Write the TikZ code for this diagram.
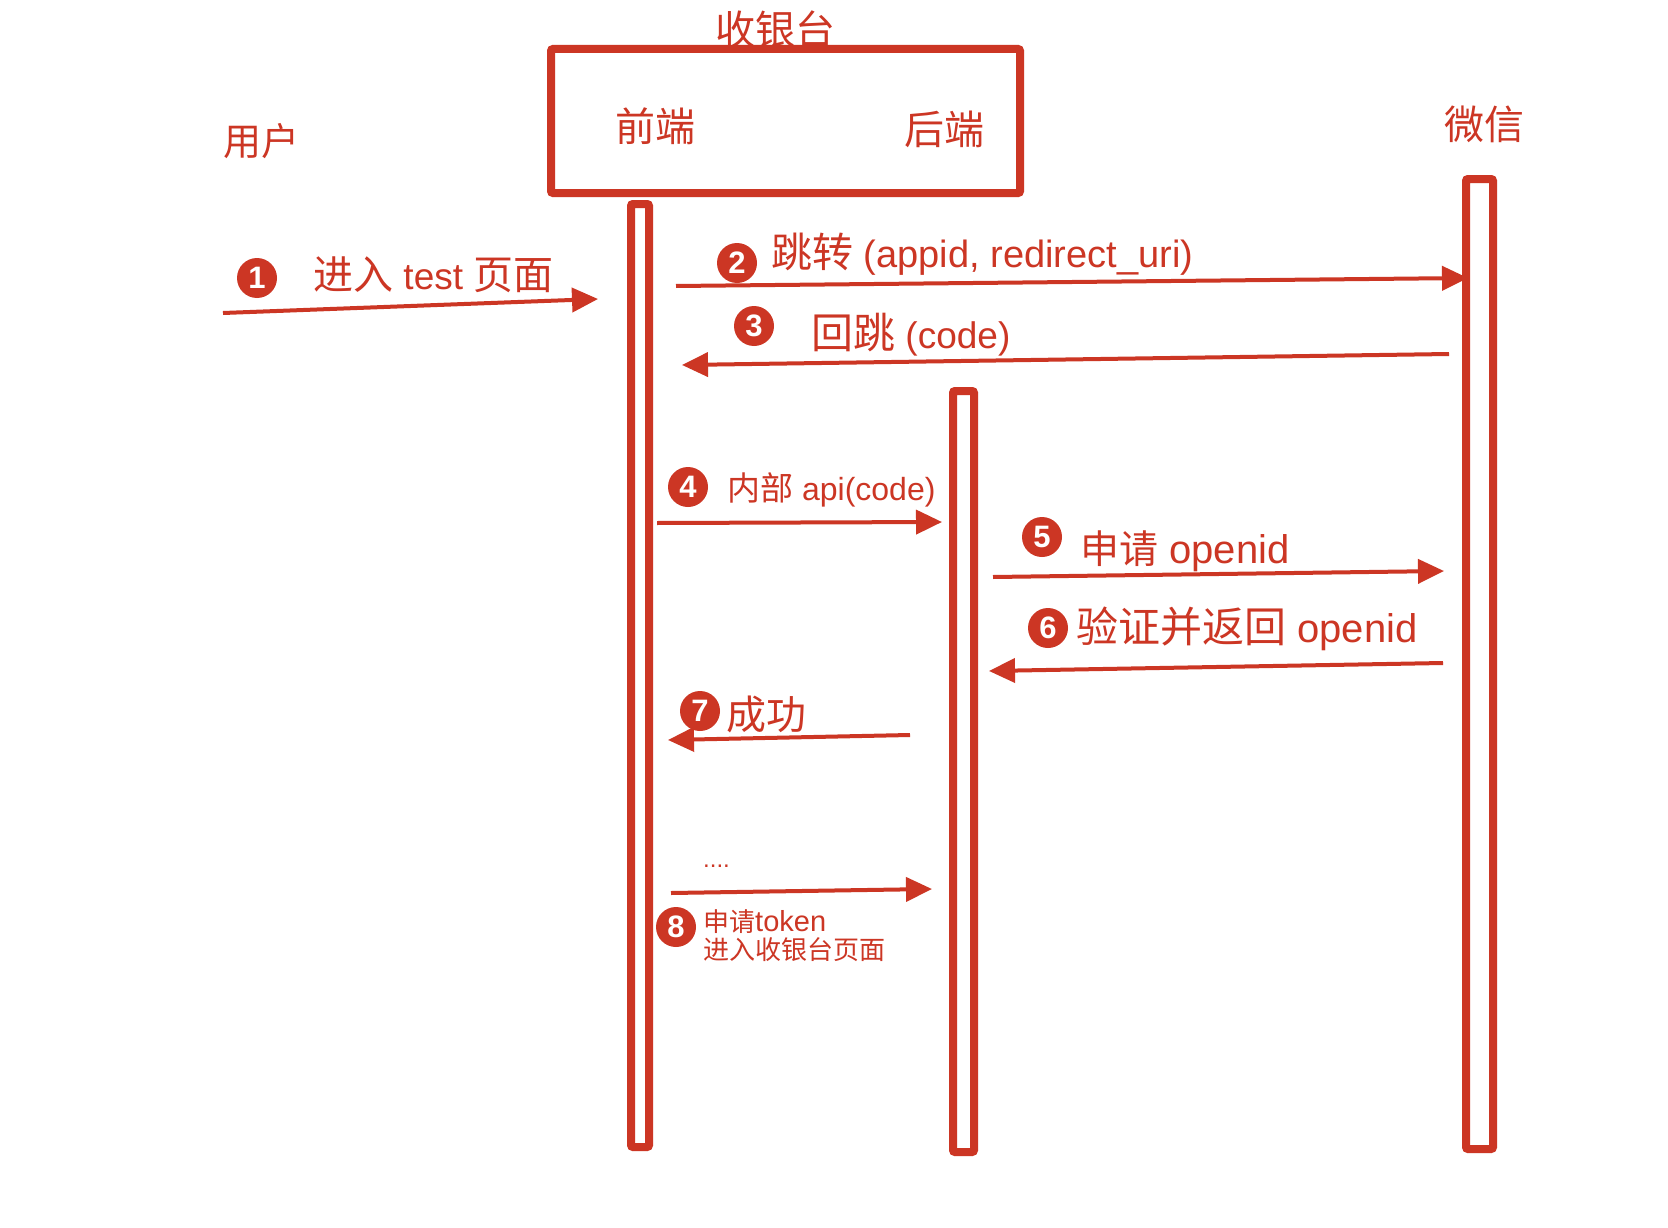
\documentclass[tikz,border=0pt]{standalone}
\usepackage{fontspec}
\setmainfont{Noto Sans CJK SC}
\newfontfamily\numfont{Liberation Sans}
\newfontfamily\lat{Liberation Sans}
\usetikzlibrary{arrows.meta}
\definecolor{wred}{RGB}{204,54,36}
\newcommand{\fs}[1]{\fontsize{#1}{#1}\selectfont}
\begin{document}
\begin{tikzpicture}[x=1pt,y=-1pt,
  lifebox/.style={draw=wred, line width=8pt, rounded corners=2pt, inner sep=0pt, outer sep=0pt},
  msg/.style={draw=wred, line width=4pt, -{Triangle[length=26pt,width=24pt]}},
  num/.style={circle, fill=wred, text=white, minimum size=40pt, inner sep=0pt, font=\numfont\fontsize{31}{31}\selectfont\bfseries},
  lbl/.style={text=wred, anchor=base west, inner sep=0pt},
  f40/.style={font=\fontsize{40}{48}\selectfont}]
\fill[white] (0,0) rectangle (1668,1228);
\useasboundingbox (0,0) rectangle (1668,1228);

% participants
\node[lifebox, minimum width=469pt, minimum height=144pt] (cashier) at (785.5,121) {};
\node[lbl, f40, anchor=base] (cashiert) at (775,45) {收银台};
\node[lbl, f40] (front) at (615,142) {前端};
\node[lbl, f40] (back) at (904,145) {后端};
\node[lbl, f40] (wx) at (1444,140) {微信};
\node[lbl, font=\fontsize{38}{46}\selectfont] (user) at (223,156) {用户};

% lifelines
\node[lifebox, minimum width=18pt, minimum height=943pt] (lfront) at (640,675.5) {};
\node[lifebox, minimum width=21pt, minimum height=761pt] (lback) at (963.5,771.5) {};
\node[lifebox, minimum width=27pt, minimum height=970pt] (lwx) at (1479.5,664) {};

% endpoints
\coordinate (a1s) at (223,313); \coordinate (a1e) at (598,299);
\coordinate (a2s) at (676,286); \coordinate (a2e) at (1468,278);
\coordinate (a3s) at (1449,354); \coordinate (a3e) at (682,365);
\coordinate (a4s) at (657,523); \coordinate (a4e) at (942,522);
\coordinate (a5s) at (993,577); \coordinate (a5e) at (1444,571);
\coordinate (a6s) at (1443,663); \coordinate (a6e) at (989,671);
\coordinate (a7s) at (910,735); \coordinate (a7e) at (668,740);
\coordinate (a8s) at (671,893); \coordinate (a8e) at (932,889);

\draw[msg] (a1s) -- (a1e);
\draw[msg] (a2s) -- (a2e);
\draw[msg] (a3s) -- (a3e);
\draw[msg] (a4s) -- (a4e);
\draw[msg] (a5s) -- (a5e);
\draw[msg] (a6s) -- (a6e);
\draw[msg] (a7s) -- (a7e);
\draw[msg] (a8s) -- (a8e);

% numbers
\node[num] (n1) at (257,278) {1};
\node[num] (n2) at (737,263) {2};
\node[num] (n3) at (754,326) {3};
\node[num] (n4) at (688,487) {4};
\node[num] (n5) at (1042,537) {5};
\node[num] (n6) at (1048,628) {6};
\node[num] (n7) at (700,711) {7};
\node[num] (n8) at (676,927) {8};

% labels
\node[lbl, font=\fs{40}] (t1) at (313,289) {进入{\lat\fs{37}\ test }页面};
\node[lbl, font=\fs{41}] (t2) at (771,267) {跳转{\lat\fs{38}\ (appid, redirect\_uri)}};
\node[lbl, font=\fs{42}] (t3) at (811,348) {回跳{\lat\fs{37}\ (code)}};
\node[lbl, font=\fs{33}] (t4) at (727,500) {内部{\lat\fs{32}\ api(code)}};
\node[lbl, font=\fs{39}] (t5) at (1080,563) {申请{\lat\fs{40}\ openid}};
\node[lbl, font=\fs{42}] (t6) at (1076,642) {验证并返回{\lat\fs{40}\ openid}};
\node[lbl, f40] (t7) at (726,729) {成功};
\node[lbl, font={\lat\fs{24}}] (tdots) at (703,867) {....};
\node[lbl, align=left, font=\fontsize{26}{28}\selectfont] (t8) at (703,959) {申请{\lat\fs{29}token}\\进入收银台页面};
\end{tikzpicture}
\end{document}
